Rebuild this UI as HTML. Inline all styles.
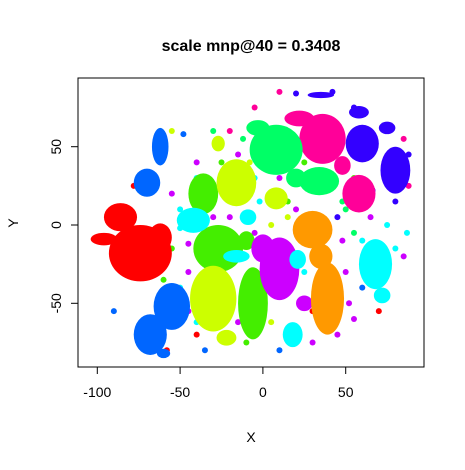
<!DOCTYPE html>
<html><head><meta charset="utf-8"><style>
html,body{margin:0;padding:0;background:#fff}
svg{font-family:"Liberation Sans",Arial,sans-serif}
</style></head><body>
<svg id="c" width="465" height="465" xmlns="http://www.w3.org/2000/svg">
<text x="251" y="51" text-anchor="middle" font-size="16" font-weight="bold">scale mnp@40 = 0.3408</text>
<g id="marks"></g>
<rect x="78" y="78" width="346" height="289" fill="none" stroke="#000" stroke-width="1"/>
<g id="axes"></g>
<text x="251" y="442" text-anchor="middle" font-size="14">X</text>
<text x="18" y="223" text-anchor="middle" font-size="14" transform="rotate(-90 18 223)">Y</text>
</svg>
<script>
const xTicks=[-100,-50,0,50];
const yTicks=[-50,0,50];
const clusterColors=["#3300ff","#ff0099","#00ff66","#ff0000","#0066ff","#44ee00","#ccff00","#cc00ff","#ff9900","#00ffff"];
// cluster blobs: [cx, cy, rx, ry] in data units
const blobViolet=[[60,52,10,12],[80,35,9,15],[62,22,6,4],[35,83,8,2],[58,72,6,4],[75,62,5,4]];
const blobPink=[[36,55,14,16],[58,20,10,12],[22,68,9,5],[48,38,5,6]];
const blobSpring=[[8,48,16,16],[34,28,12,9],[-3,62,7,5],[20,30,6,6]];
const blobRed=[[-74,-18,19,18],[-86,5,10,9],[-96,-9,8,4],[-62,-8,7,9]];
const blobBlue=[[-62,50,5,12],[-70,27,8,9],[-55,-52,11,15],[-68,-70,10,13],[-60,-82,4,3]];
const blobGreen=[[-27,-15,15,15],[-36,20,9,13],[-6,-50,9,23],[-10,-10,5,6]];
const blobYellow=[[-30,-47,14,21],[-16,27,12,15],[8,17,7,7],[-27,52,4,5],[-22,-72,6,5]];
const blobPurple=[[10,-28,12,20],[0,-15,7,9],[25,-50,5,5]];
const blobOrange=[[30,-3,12,12],[39,-47,10,23],[35,-20,7,8]];
const blobCyan=[[68,-25,10,16],[-42,3,10,8],[-16,-20,8,4],[18,-70,6,8],[21,-22,5,6],[-9,5,5,5],[72,-45,5,5]];
const clusters=[blobViolet,blobPink,blobSpring,blobRed,blobBlue,blobGreen,blobYellow,blobPurple,blobOrange,blobCyan];
// scattered loose points: [x, y, colorIndex]
const loosePoints=[[-55,60,6],[-48,58,4],[-62,48,6],[-78,25,3],[-40,40,7],[-15,45,7],[-30,60,2],[-5,75,1],[10,85,1],[20,84,0],[42,85,0],[55,75,0],[85,55,1],[88,45,0],[88,25,1],[80,15,0],[87,-5,9],[72,-35,7],[75,-45,9],[85,-20,7],[55,-60,7],[70,-55,3],[30,-75,7],[10,-80,4],[-35,-80,4],[-40,-70,3],[-58,-80,3],[-90,-55,4],[-60,-35,5],[-50,-40,9],[-45,-30,7],[-5,30,9],[5,20,6],[15,5,6],[-8,40,6],[50,10,2],[55,-5,2],[45,5,0],[60,-10,9],[-55,20,7],[0,-35,9],[25,-30,9],[-10,-75,5],[30,-55,3],[55,30,5],
[-20,5,7],[-5,-5,7],[5,0,6],[-30,5,7],[-45,-12,7],[-50,10,9],[-25,40,5],[-12,55,2],[-20,60,1],[3,40,6],[15,15,5],[22,-5,6],[20,10,7],[-2,15,9],[-55,-15,5],[48,-10,7],[50,-30,7],[52,-50,7],[60,-40,4],[45,-70,7],[5,-62,6],[-15,-62,7],[-45,-55,7],[-40,-62,9],[35,-62,6],[65,5,7],[75,0,9],[80,-15,9],[48,15,2],[25,40,5],[-35,-40,6],[-12,30,5],[10,30,7],[-40,30,9],[-50,-2,9]];
function sx(v){return 262.9+v*1.656}
function sy(v){return 225-v*1.566}
const NS="http://www.w3.org/2000/svg";
const marks=document.getElementById('marks');
loosePoints.forEach(p=>{
  const c=document.createElementNS(NS,'circle');
  c.setAttribute('cx',sx(p[0]));c.setAttribute('cy',sy(p[1]));c.setAttribute('r',3);
  c.setAttribute('fill',clusterColors[p[2]]);
  
  
  marks.appendChild(c);
});
clusters.forEach((blobs,ci)=>{
  blobs.forEach(b=>{
    const e=document.createElementNS(NS,'ellipse');
    e.setAttribute('cx',sx(b[0]));e.setAttribute('cy',sy(b[1]));
    e.setAttribute('rx',b[2]*1.656);e.setAttribute('ry',b[3]*1.566);
    e.setAttribute('fill',clusterColors[ci]);
    
    
    marks.appendChild(e);
  });
});
const axes=document.getElementById('axes');
function line(x1,y1,x2,y2,n){const l=document.createElementNS(NS,'line');l.setAttribute('x1',x1);l.setAttribute('y1',y1);l.setAttribute('x2',x2);l.setAttribute('y2',y2);l.setAttribute('stroke','#000');


axes.appendChild(l);}
line(sx(-100),367,sx(50),367,'x-axis-line');
line(78,sy(-50),78,sy(50),'y-axis-line');
xTicks.forEach(v=>{line(sx(v),367,sx(v),374,'x-tick');
  const t=document.createElementNS(NS,'text');t.setAttribute('x',sx(v));t.setAttribute('y',397);t.setAttribute('text-anchor','middle');t.setAttribute('font-size','14');t.textContent=v;
  
  
  axes.appendChild(t);});
yTicks.forEach(v=>{line(71,sy(v),78,sy(v),'y-tick');
  const t=document.createElementNS(NS,'text');const x=61,y=sy(v);t.setAttribute('x',x);t.setAttribute('y',y);t.setAttribute('text-anchor','middle');t.setAttribute('font-size','14');t.setAttribute('transform','rotate(-90 '+x+' '+y+')');t.textContent=v;
  
  
  axes.appendChild(t);});
</script>
</body></html>
